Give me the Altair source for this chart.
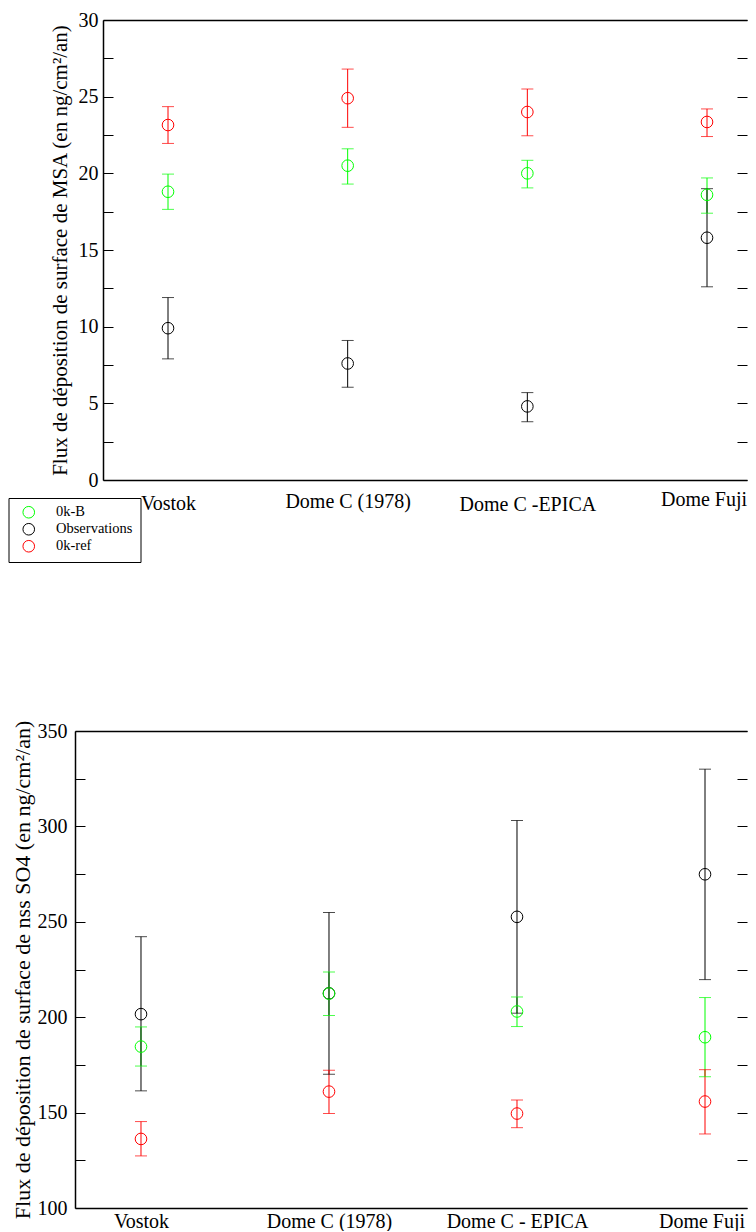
import altair as alt
import pandas as pd

# ---------------- data ----------------
series = ["0k-B", "Observations", "0k-ref"]
series_draw_order = [1, 0, 2]
colors = ["#00ff00", "#000000", "#ff0000"]
site_pos = [1, 2, 3, 4]
sites_msa = ["Vostok", "Dome C (1978)", "Dome C -EPICA", "Dome Fuji"]
sites_so4 = ["Vostok", "Dome C (1978)", "Dome C - EPICA", "Dome Fuji"]

# MSA deposition flux (ng/cm2/an)
msa_b = [18.8, 20.5, 20.0, 18.6]
msa_b_lo = [17.65, 19.3, 19.05, 17.4]
msa_b_hi = [19.95, 21.6, 20.85, 19.7]
msa_obs = [9.9, 7.6, 4.8, 15.8]
msa_obs_lo = [7.9, 6.05, 3.8, 12.6]
msa_obs_hi = [11.9, 9.1, 5.7, 19.0]
msa_ref = [23.15, 24.9, 24.0, 23.35]
msa_ref_lo = [21.95, 23.0, 22.45, 22.4]
msa_ref_hi = [24.35, 26.8, 25.5, 24.2]

# nss SO4 deposition flux (ng/cm2/an)
so4_b = [184.6, 212.4, 203.0, 189.5]
so4_b_lo = [174.4, 200.9, 195.1, 168.8]
so4_b_hi = [194.9, 223.7, 210.6, 210.3]
so4_obs = [201.6, 212.5, 252.6, 274.9]
so4_obs_lo = [161.4, 170.1, 202.1, 219.7]
so4_obs_hi = [242.2, 254.9, 303.1, 330.0]
so4_ref = [136.2, 161.0, 149.5, 155.8]
so4_ref_lo = [127.3, 149.5, 142.1, 138.8]
so4_ref_hi = [145.3, 172.2, 156.6, 172.5]

msa_label_values = [0, 5, 10, 15, 20, 25, 30]
msa_tick_values = [0, 2.5, 5, 7.5, 10, 12.5, 15, 17.5, 20, 22.5, 25, 27.5, 30]
so4_label_values = [100, 150, 200, 250, 300, 350]
so4_tick_values = [100, 125, 150, 175, 200, 225, 250, 275, 300, 325, 350]

FONT = "Liberation Serif"


def make_df(groups):
    rows = []
    for name, z, (vals, lo, hi) in zip(series, series_draw_order, groups):
        for p, v, l, h in zip(site_pos, vals, lo, hi):
            rows.append({"series": name, "z": z, "pos": p, "val": v,
                         "lo": l, "hi": h})
    return pd.DataFrame(rows)


df_msa = make_df([(msa_b, msa_b_lo, msa_b_hi),
                  (msa_obs, msa_obs_lo, msa_obs_hi),
                  (msa_ref, msa_ref_lo, msa_ref_hi)])
df_so4 = make_df([(so4_b, so4_b_lo, so4_b_hi),
                  (so4_obs, so4_obs_lo, so4_obs_hi),
                  (so4_ref, so4_ref_lo, so4_ref_hi)])


def panel(df, sites, ydom, ylabels, yticks, xdom, xrange, W, H, yoff,
          ytitle, ytsize, ytpad, ylpad, xlpad, legend):
    lab = "[" + ",".join("'" + s + "'" for s in sites) + "][datum.value - 1]"
    xscale = alt.Scale(domain=xdom, range=xrange, nice=False, zero=False)
    yscale = alt.Scale(domain=ydom, nice=False, zero=False)
    cscale = alt.Scale(domain=series, range=colors)

    def X(axis=None):
        return alt.X("pos:Q", scale=xscale, axis=axis)

    def Y(field, axis=None):
        return alt.Y(field + ":Q", scale=yscale, axis=axis)

    col_nl = alt.Color("series:N", scale=cscale, legend=None)
    base = alt.Chart(df)

    rules = base.mark_rule(strokeWidth=1).encode(
        x=X(), y=Y("lo"), y2=alt.Y2("hi:Q"), color=col_nl)
    cap_lo = base.mark_tick(orient="horizontal", size=12, thickness=1).encode(
        x=X(), y=Y("lo"), color=col_nl)
    cap_hi = base.mark_tick(orient="horizontal", size=12, thickness=1).encode(
        x=X(), y=Y("hi"), color=col_nl)

    xaxis = alt.Axis(orient="bottom", values=site_pos, labelExpr=lab,
                     ticks=False, tickSize=0, grid=False, domain=True,
                     domainWidth=1.5, labelFont=FONT, labelFontSize=20,
                     labelPadding=xlpad,
                     labelOffset={"condition": {"test": "datum.value == 4",
                                                "value": -3.5},
                                  "value": 0},
                     labelFlush=False, labelOverlap=False, title=None)
    yaxis = alt.Axis(orient="left", values=ylabels, offset=yoff, ticks=False,
                     tickSize=0, grid=False, domain=True, domainWidth=1.5,
                     labelFont=FONT, labelFontSize=20, labelPadding=ylpad,
                     labelFlush=False, labelOverlap=False, title=ytitle,
                     titleFont=FONT, titleFontSize=ytsize,
                     titleFontWeight="normal", titlePadding=ytpad)
    if legend:
        col = alt.Color("series:N", scale=cscale, legend=alt.Legend(
            orient="none", legendX=-66.5, legendY=478, title=None,
            symbolType="circle", symbolSize=135, symbolStrokeWidth=1,
            labelFont=FONT, labelFontSize=14.5, labelColor="black",
            strokeColor="black", fillColor="white", padding=7,
            symbolOffset=6, labelOffset=20, rowPadding=0))
    else:
        col = col_nl
    points = base.mark_point(shape="circle", filled=False, size=135,
                             strokeWidth=1, opacity=1).encode(
        x=X(xaxis), y=Y("val", yaxis), color=col, order=alt.Order("z:Q"))

    top_border = base.mark_point(opacity=0).encode(
        x=X(alt.Axis(orient="top", ticks=False, tickSize=0, labels=False,
                     labelPadding=0, domain=True, domainWidth=1.5, grid=False,
                     title=None, minExtent=0, maxExtent=0)),
        y=Y("val"))
    left_ticks = base.mark_point(opacity=0).encode(
        x=X(),
        y=Y("val", alt.Axis(orient="right", offset=-(W - xrange[0]),
                            values=yticks, labels=False, domain=False,
                            ticks=True, tickSize=10, grid=False, title=None,
                            minExtent=0)))
    right_ticks = base.mark_point(opacity=0).encode(
        x=X(),
        y=Y("val", alt.Axis(orient="left", offset=-W, values=yticks,
                            labels=False, domain=False, ticks=True,
                            tickSize=10, grid=False, title=None,
                            minExtent=0)))

    return alt.layer(rules, cap_lo, cap_hi, points, top_border, left_ticks,
                     right_ticks).resolve_axis(
        x="independent", y="independent").resolve_legend(
        color="independent").properties(width=W, height=H)


W = 672
top_label_pad = {"condition": [{"test": "datum.value == 2", "value": 11},
                               {"test": "datum.value == 3", "value": 14},
                               {"test": "datum.value == 4", "value": 9}],
                 "value": 13}
top = panel(df_msa, sites_msa, [0, 30], msa_label_values, msa_tick_values,
            [0.6382, 4.2226], [28, W], W, 460, -28,
            "Flux de déposition de surface de MSA (en ng/cm²/an)", 21, 8,
            5, top_label_pad, True)
bottom = panel(df_so4, sites_so4, [100, 350], so4_label_values,
               so4_tick_values, [0.649, 4.2234], [0, W], W, 477, 0,
               "Flux de déposition de surface de nss SO4 (en ng/cm²/an)", 22,
               3, 8, 3, False)

chart = alt.vconcat(top, bottom, spacing=157).properties(
    padding={"left": 0, "top": 2, "right": 0, "bottom": 0},
    background="white",
).configure(font=FONT).configure_view(stroke=None).configure_axis(
    labelFont=FONT, titleFont=FONT, labelColor="black", titleColor="black",
    titleFontWeight="normal", domainColor="black", tickColor="black",
    tickWidth=1,
).configure_legend(labelFont=FONT)

chart.save("out.html", embed_options={"renderer": "svg", "actions": False})
